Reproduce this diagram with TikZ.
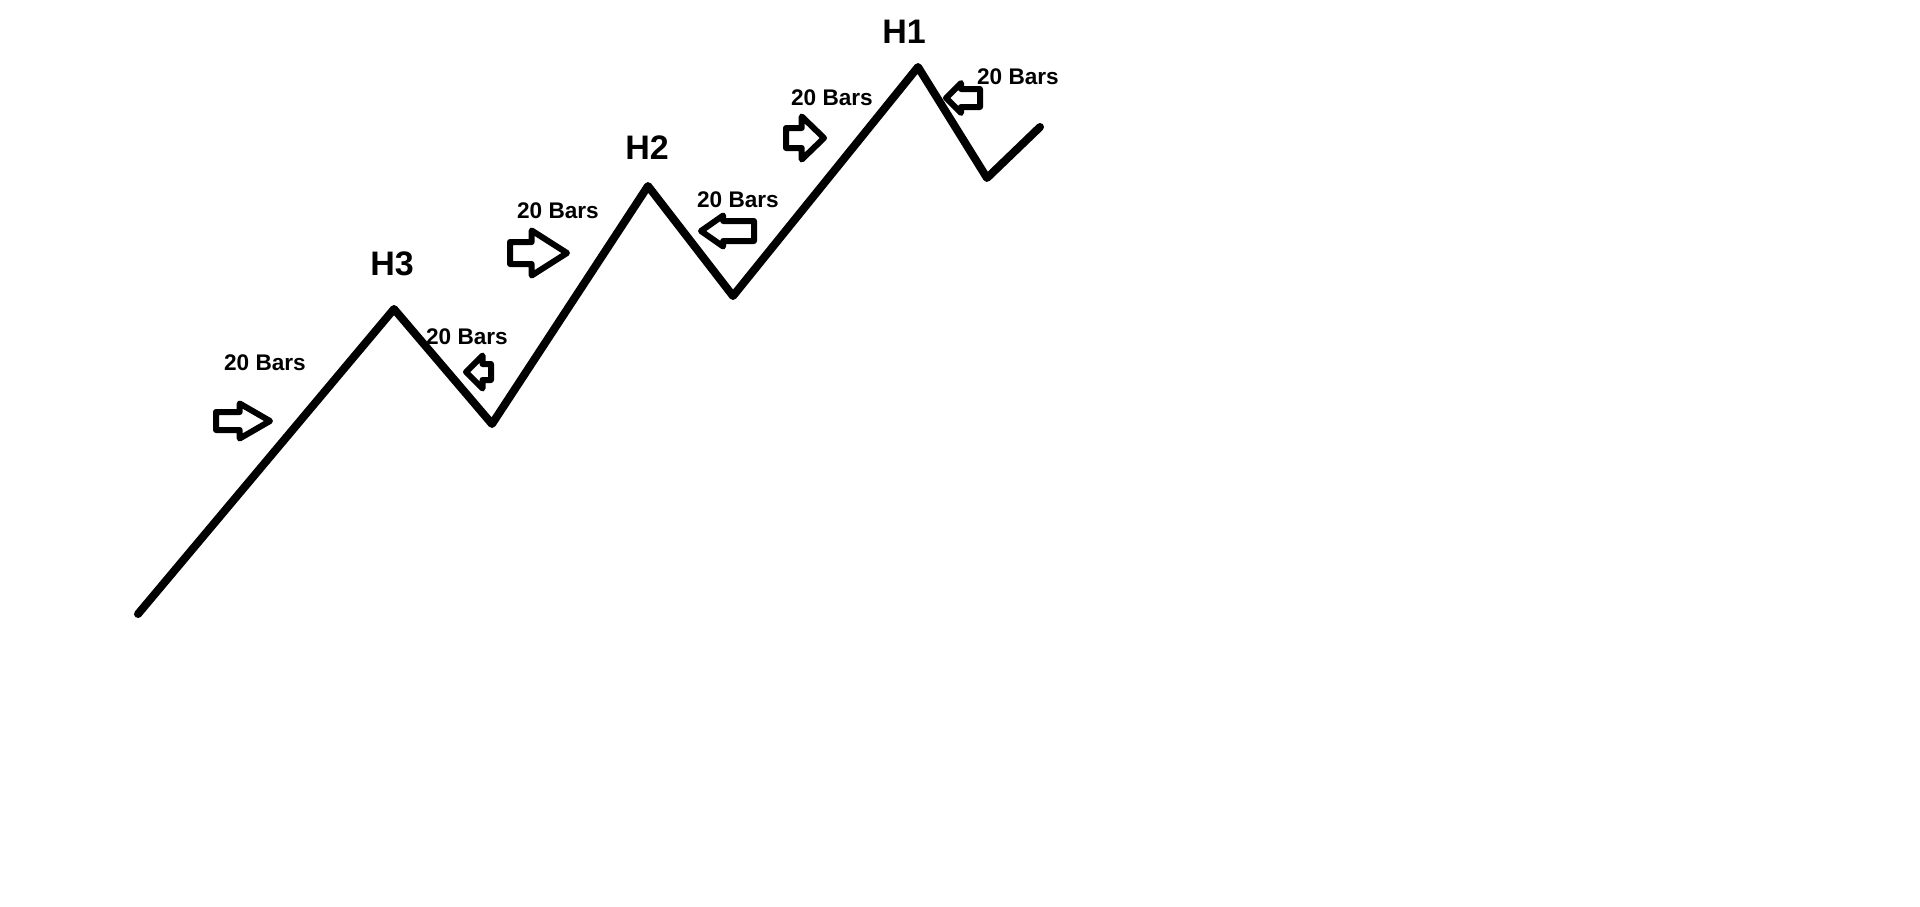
\documentclass[tikz,border=0pt]{standalone}
\usepackage{fontspec}
\setmainfont{Liberation Sans}
\usetikzlibrary{shapes.arrows}
\tikzset{
    peak/.style={font=\bfseries\fontsize{17}{20}\selectfont, inner sep=0mm},
    bars/.style={font=\bfseries\fontsize{11.3}{13}\selectfont, inner sep=0mm},
    barrow/.style={single arrow, draw, fill=white, line width=3pt, inner xsep=0mm, line join=round}
}
\tikzset{leftarrow/.style={barrow, shape border rotate=180}}

\begin{document}
\begin{tikzpicture}[x=0.5pt, y=-0.5pt]
  \useasboundingbox (0,0) rectangle (1920,906);
  \coordinate (p0) at (138,614);
  \coordinate (h3) at (394,309);
  \coordinate (t1) at (492,424);
  \coordinate (h2) at (648,186);
  \coordinate (t2) at (733,296);
  \coordinate (h1) at (918,67);
  \coordinate (t3) at (987,178);
  \coordinate (p7) at (1040,127);

  \draw [line width=4pt, line cap=round, line join=round] (p0) -- (h3) -- (t1) -- (h2) -- (t2) -- (h1) -- (t3) -- (p7);

  \node (H3) [peak] at (392,264) {H3};
  \node (H2) [peak] at (647,148) {H2};
  \node (H1) [peak] at (904,32) {H1};

  \node (b1) [bars] at (265,363) {20 Bars};
  \node (b2) [bars] at (467,337) {20 Bars};
  \node (b3) [bars] at (558,211) {20 Bars};
  \node (b4) [bars] at (738,200) {20 Bars};
  \node (b5) [bars] at (832,98) {20 Bars};
  \node (b6) [bars] at (1018,77) {20 Bars};

  \node (a1) [barrow, anchor=tail, minimum height=27pt, inner ysep=3pt, single arrow head extend=4.25pt, single arrow tip angle=60] at (213,421) {};
  \node (a2) [leftarrow, anchor=tail, minimum height=12.5pt, inner ysep=2.5pt, single arrow head extend=4.25pt, single arrow tip angle=90] at (494,372) {};
  \node (a3) [barrow, anchor=tail, minimum height=28.5pt, inner ysep=4pt, single arrow head extend=5.75pt, single arrow tip angle=65] at (507,253) {};
  \node (a4) [leftarrow, anchor=tail, minimum height=26.5pt, inner ysep=3.5pt, single arrow head extend=2.75pt, single arrow tip angle=70] at (757,231) {};
  \node (a5) [barrow, anchor=tail, minimum height=19pt, inner ysep=3.5pt, single arrow head extend=5.75pt, single arrow tip angle=88] at (783,138) {};
  \node (a6) [leftarrow, anchor=tail, minimum height=17pt, inner ysep=3pt, single arrow head extend=3pt, single arrow tip angle=90] at (983,98) {};
\end{tikzpicture}
\end{document}
